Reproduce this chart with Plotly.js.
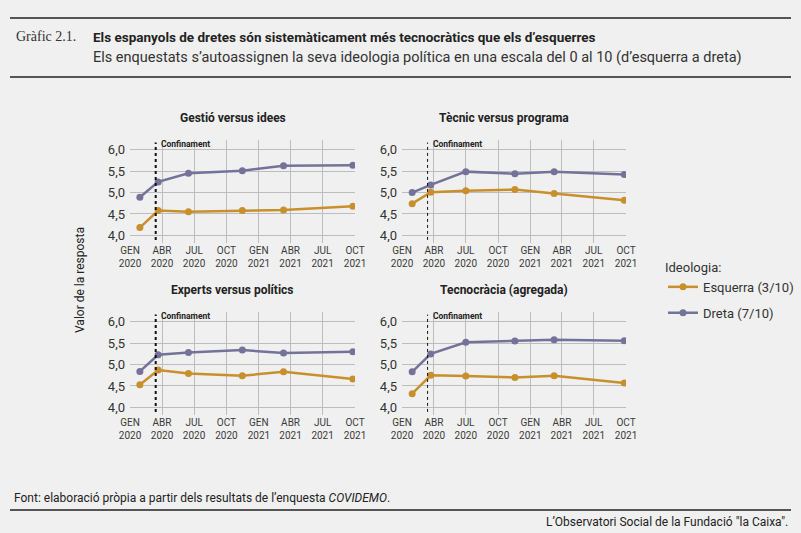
<!DOCTYPE html>
<html>
<head>
<meta charset="utf-8">
<script src="https://cdn.plot.ly/plotly-3.0.1.min.js"></script>
<style>
  html, body { margin: 0; padding: 0; background: #f0f0f0; }
  #chart { width: 801px; height: 533px; }
</style>
</head>
<body>
<div id="chart"></div>
<script>
// survey waves (left column panels and right column panels are placed slightly differently)
var datesLeft = ['2020-01-29', '2020-03-21', '2020-06-15', '2020-11-15', '2021-03-12', '2021-09-25'];
var datesRight = ['2020-01-30', '2020-03-23', '2020-07-01', '2020-11-18', '2021-03-10', '2021-09-26'];

var panelTitles = ['Gestió versus idees', 'Tècnic versus programa', 'Experts versus polítics', 'Tecnocràcia (agregada)'];

var esquerra = [
  [4.18, 4.58, 4.55, 4.58, 4.59, 4.68],
  [4.74, 5.01, 5.04, 5.07, 4.98, 4.82],
  [4.53, 4.87, 4.79, 4.74, 4.83, 4.66],
  [4.32, 4.75, 4.73, 4.70, 4.74, 4.57]
];
var dreta = [
  [4.89, 5.25, 5.45, 5.51, 5.63, 5.64],
  [5.00, 5.18, 5.49, 5.44, 5.49, 5.42],
  [4.84, 5.23, 5.28, 5.34, 5.27, 5.30],
  [4.83, 5.25, 5.52, 5.55, 5.58, 5.56]
];

var tickDates = ['2020-01-01', '2020-04-01', '2020-07-01', '2020-10-01', '2021-01-01', '2021-04-01', '2021-07-01', '2021-10-01'];
var tickLabels = ['GEN<br>2020', 'ABR<br>2020', 'JUL<br>2020', 'OCT<br>2020', 'GEN<br>2021', 'ABR<br>2021', 'JUL<br>2021', 'OCT<br>2021'];
var yTicks = [4.0, 4.5, 5.0, 5.5, 6.0];
var confinament = '2020-03-14';

var W = 801, H = 533;
var orange = '#c8902c', purple = '#75729a';
var font = 'Roboto, "Liberation Sans", sans-serif';

function px(x) { return x / W; }
function py(y) { return 1 - y / H; }

// panel boxes in pixels: [left, right, top, bottom]
var boxes = [
  [130, 355, 140, 243],
  [402, 626, 140, 243],
  [130, 355, 312, 415],
  [402, 626, 312, 415]
];

var data = [];
var layout = {
  width: W, height: H,
  margin: {l: 0, r: 0, t: 0, b: 0},
  paper_bgcolor: '#f0f0f0',
  plot_bgcolor: '#f0f0f0',
  separators: ',.',
  font: {family: font, color: '#333'},
  showlegend: true,
  legend: {
    x: px(663), y: py(255), xanchor: 'left', yanchor: 'top',
    bgcolor: 'rgba(0,0,0,0)',
    itemwidth: 30,
    title: {text: 'Ideologia:', font: {size: 13, color: '#333'}},
    font: {size: 13, color: '#333'},
    tracegroupgap: 6
  },
  shapes: [],
  annotations: []
};

for (var i = 0; i < 4; i++) {
  var n = i === 0 ? '' : String(i + 1);
  var xa = 'x' + n, ya = 'y' + n;
  var dates = (i % 2 === 0) ? datesLeft : datesRight;
  var b = boxes[i];

  data.push({
    x: dates, y: esquerra[i], xaxis: xa, yaxis: ya,
    type: 'scatter', mode: 'lines+markers', name: 'Esquerra (3/10)',
    line: {color: orange, width: 2.5}, marker: {color: orange, size: 7},
    showlegend: i === 0, legendgroup: 'esq'
  });
  data.push({
    x: dates, y: dreta[i], xaxis: xa, yaxis: ya,
    type: 'scatter', mode: 'lines+markers', name: 'Dreta (7/10)',
    line: {color: purple, width: 2.5}, marker: {color: purple, size: 7},
    showlegend: i === 0, legendgroup: 'dre'
  });

  layout['xaxis' + n] = {
    domain: [px(b[0]), px(b[1])],
    anchor: ya,
    type: 'date',
    range: ['2020-01-01', '2021-10-01'],
    tickvals: tickDates, ticktext: tickLabels,
    tickfont: {size: 10, color: '#3a3a3a'},
    showgrid: true, gridcolor: '#bdbdbd', gridwidth: 1,
    zeroline: false, showline: false, ticks: '',
    fixedrange: true
  };
  layout['yaxis' + n] = {
    domain: [py(b[3]), py(b[2])],
    anchor: xa,
    range: [3.82, 6.23],
    tickvals: yTicks, tickformat: '.1f',
    tickfont: {size: 13, color: '#333'},
    showgrid: true, gridcolor: '#bdbdbd', gridwidth: 1,
    zeroline: false, showline: false, ticks: '',
    ticklabelstandoff: 4,
    fixedrange: true
  };

  layout.shapes.push({
    type: 'line', xref: xa, yref: ya + ' domain',
    x0: confinament, x1: confinament, y0: 0.03, y1: 0.975,
    line: {color: '#111', width: i % 2 === 0 ? 2 : 1, dash: 'dot'}
  });
  layout.annotations.push({
    xref: xa, yref: ya + ' domain', x: confinament, y: 0.965,
    xanchor: 'left', yanchor: 'middle', xshift: 3, showarrow: false,
    text: '<b>Confinament</b>', font: {size: 8.5, color: '#222'}
  });
  layout.annotations.push({
    xref: 'paper', yref: 'paper',
    x: px((b[0] + b[1]) / 2 - 10), y: py(b[2] - 22),
    xanchor: 'center', yanchor: 'middle', showarrow: false,
    text: '<b>' + panelTitles[i] + '</b>', font: {size: 12, color: '#222'}
  });
}

// y axis title shared
layout.annotations.push({
  xref: 'paper', yref: 'paper', x: px(80), y: py(280),
  textangle: -90, showarrow: false, xanchor: 'center', yanchor: 'middle',
  text: 'Valor de la resposta', font: {size: 12, color: '#222'}
});

// header and footer
layout.annotations.push({
  xref: 'paper', yref: 'paper', x: px(14), y: py(37), xanchor: 'left', yanchor: 'middle',
  showarrow: false, text: 'Gràfic 2.1.',
  font: {family: '"Liberation Serif", "DejaVu Serif", serif', size: 14, color: '#333'}
});
layout.annotations.push({
  xref: 'paper', yref: 'paper', x: px(91), y: py(37), xanchor: 'left', yanchor: 'middle',
  showarrow: false, text: '<b>Els espanyols de dretes són sistemàticament més tecnocràtics que els d’esquerres</b>',
  font: {size: 13.5, color: '#222'}
});
layout.annotations.push({
  xref: 'paper', yref: 'paper', x: px(91), y: py(58), xanchor: 'left', yanchor: 'middle',
  showarrow: false, text: 'Els enquestats s’autoassignen la seva ideologia política en una escala del 0 al 10 (d’esquerra a dreta)',
  font: {size: 14.5, color: '#333'}
});
layout.annotations.push({
  xref: 'paper', yref: 'paper', x: px(12), y: py(498), xanchor: 'left', yanchor: 'middle',
  showarrow: false, text: 'Font: elaboració pròpia a partir dels resultats de l’enquesta <i>COVIDEMO</i>.',
  font: {size: 12, color: '#222'}
});
layout.annotations.push({
  xref: 'paper', yref: 'paper', x: px(790), y: py(522), xanchor: 'right', yanchor: 'middle',
  showarrow: false, text: 'L’Observatori Social de la Fundació "la Caixa".',
  font: {size: 12, color: '#222'}
});

[18, 77, 510].forEach(function (yy) {
  layout.shapes.push({
    type: 'line', xref: 'paper', yref: 'paper',
    x0: px(10), x1: px(791), y0: py(yy), y1: py(yy),
    line: {color: '#555', width: 2}
  });
});

Plotly.newPlot('chart', data, layout, {displayModeBar: false, staticPlot: true});
</script>
</body>
</html>
